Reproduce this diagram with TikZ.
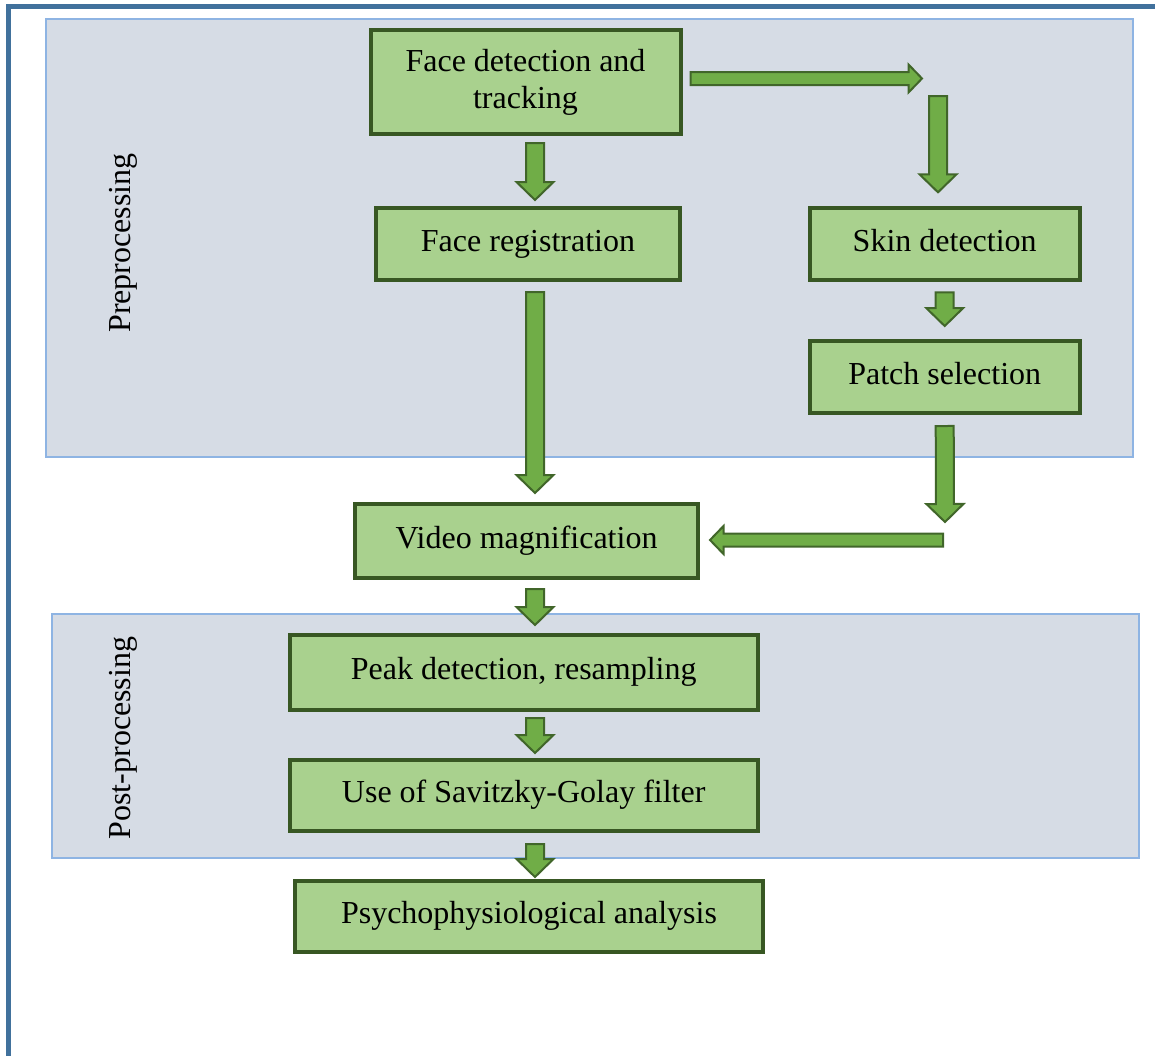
\documentclass[tikz,border=0pt]{standalone}
\usepackage{fontspec}
\setmainfont{Liberation Serif}
\usetikzlibrary{calc}

\definecolor{frameblue}{HTML}{41719C}
\definecolor{panelfill}{HTML}{D6DCE5}
\definecolor{paneledge}{HTML}{8EB4E3}
\definecolor{boxfill}{HTML}{A9D18E}
\definecolor{boxedge}{HTML}{385723}
\definecolor{arrowfill}{HTML}{70AD47}
\definecolor{arrowedge}{HTML}{41662A}

\tikzset{
  stage/.style={draw=boxedge, line width=2pt, fill=boxfill, align=center, inner sep=0pt,
    font=\fontsize{16}{18.5}\selectfont},
  oneline/.style={text height=11pt, text depth=4pt},
  panel/.style={draw=paneledge, line width=0.75pt, fill=panelfill},
  blockarrow/.style={draw=arrowedge, line width=1pt, fill=arrowfill, line join=miter},
  phase/.style={rotate=90, font=\fontsize{16}{18.5}\selectfont}
}

% block arrow: tail, tip, half shaft, half head, head length
\newcommand{\blockarrow}[5]{%
  \coordinate (ba-t) at (#1);
  \coordinate (ba-h) at (#2);
  \coordinate (ba-b) at ($(ba-h)!#5!(ba-t)$);
  \filldraw[blockarrow] ($(ba-t)!#3!90:(ba-h)$) -- ($(ba-b)!#3!-90:(ba-t)$)
    -- ($(ba-b)!#4!-90:(ba-t)$) -- (ba-h) -- ($(ba-b)!#4!90:(ba-t)$)
    -- ($(ba-b)!#3!90:(ba-t)$) -- ($(ba-t)!#3!-90:(ba-h)$) -- cycle;
}
\newcommand{\vblock}[2]{\blockarrow{#1}{#2}{4.5pt}{9.25pt}{9pt}}
\newcommand{\hblock}[2]{\blockarrow{#1}{#2}{3.25pt}{7pt}{6.75pt}}

\begin{document}
\begin{tikzpicture}[x=0.5pt, y=-0.5pt]
\useasboundingbox (0,0) rectangle (1155,1055);

% outer frame
\draw[frameblue, line width=2.5pt] (8.5,1060) |- (1160,6);

% phases
\draw[panel] (46,19) rectangle (1133,457);
\draw[panel] (52,614) rectangle (1139,858);
\node[phase] (prelabel) at (123,243) {Preprocessing};
\node[phase] (postlabel) at (123,738) {Post-processing};

% stages
\node[stage, minimum width=155pt, minimum height=52pt] (fdt) at (525.5,82) {Face detection and\\tracking};
\node[stage, oneline, minimum width=152pt, minimum height=36pt] (freg) at (528,244) {Face registration};
\node[stage, oneline, minimum width=135pt, minimum height=36pt] (skin) at (944.7,244.3) {Skin detection};
\node[stage, oneline, minimum width=135pt, minimum height=36pt] (patch) at (944.7,377) {Patch selection};
\node[stage, oneline, minimum width=171.5pt, minimum height=37pt] (video) at (526.5,541) {Video magnification};
\node[stage, oneline, minimum width=234pt, minimum height=37.5pt] (peak) at (523.7,672.5) {Peak detection, resampling};
\node[stage, oneline, minimum width=234pt, minimum height=35.5pt] (sav) at (523.7,795.5) {Use of Savitzky-Golay filter};
\node[stage, oneline, minimum width=234pt, minimum height=35.5pt] (psy) at (529,916.5) {Psychophysiological analysis};

% arrows
\coordinate (col) at (535,0);
\coordinate (rt) at (922,78.5);
\coordinate (dn) at (938,96);
\coordinate (dt) at (945,522);
\coordinate (lt) at (943,540);

\vblock{$(fdt.south -| col)+(0,7)$}{$(freg.north -| col)+(0,-6)$}
\vblock{$(freg.south -| col)+(0,10)$}{$(video.north -| col)+(0,-9)$}
\vblock{$(video.south -| col)+(0,9)$}{$(peak.north -| col)+(0,-8)$}
\vblock{$(peak.south -| col)+(0,6)$}{$(sav.north -| col)+(0,-5)$}
\vblock{$(sav.south -| col)+(0,11)$}{$(psy.north -| col)+(0,-2)$}
\hblock{$(fdt.east)+(8,-3.5)$}{rt}
\vblock{dn}{$(skin.north -| dn)+(0,-14)$}
\vblock{$(skin.south)+(0,10)$}{$(patch.north)+(0,-13)$}
\vblock{$(patch.south)+(0,11)$}{dt}
\hblock{lt}{$(video.east)+(10,-1)$}
\end{tikzpicture}
\end{document}
